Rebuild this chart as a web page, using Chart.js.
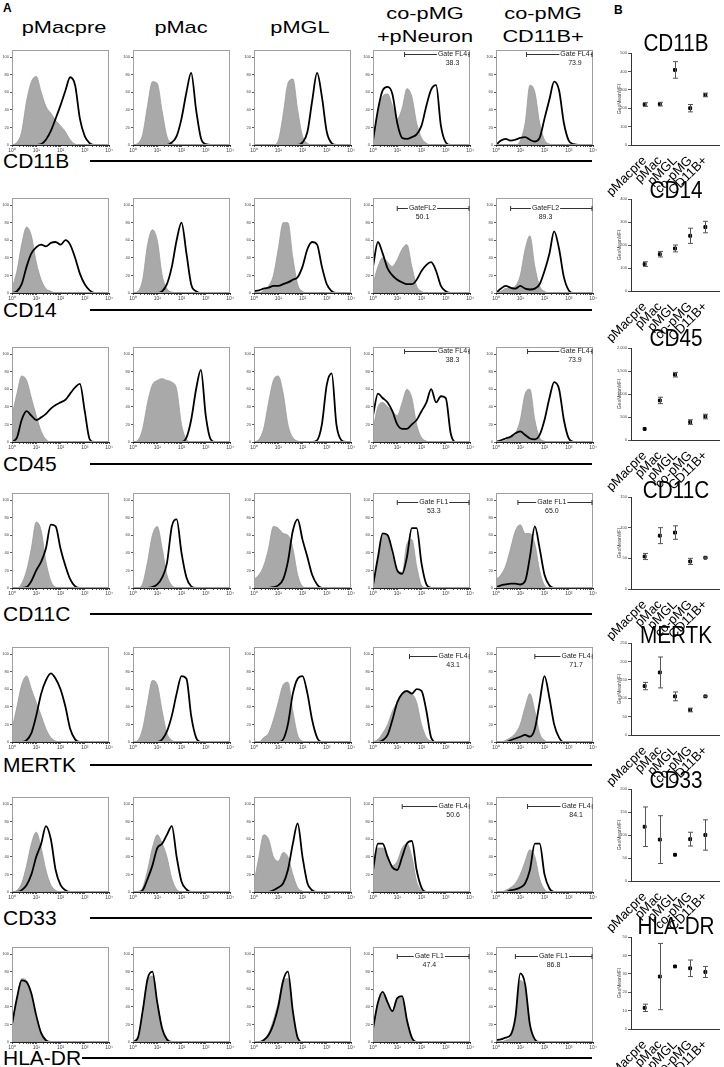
<!DOCTYPE html>
<html>
<head>
<meta charset="utf-8">
<script src="https://cdn.jsdelivr.net/npm/chart.js@4.4.1/dist/chart.umd.min.js"></script>
<style>
  body { margin: 0; width: 724px; height: 1067px; background: #fff; position: relative; overflow: hidden;
         font-family: "Liberation Sans", Arial, sans-serif; color: #000; }
  canvas { position: absolute; }
  .hdr { position: absolute; width: 120px; font-size: 17px; line-height: 23px; text-align: center;
         transform: scaleX(1.28); white-space: nowrap; }
  .rowlab { position: absolute; left: 3px; font-size: 21px; line-height: 21px; white-space: nowrap; }
  .rule { position: absolute; height: 2px; background: #000; }
  .btitle { position: absolute; width: 110px; font-size: 23px; line-height: 24px; text-align: center;
            transform: scaleX(0.9); white-space: nowrap; }
  .panel { position: absolute; font-weight: bold; font-size: 12px; }
</style>
</head>
<body>
<div class="panel" style="left:3px;top:1px">A</div>
<div class="panel" style="left:614px;top:3px">B</div>
<script>
// categories
const groups = ['pMacpre', 'pMac', 'pMGL', 'co-pMG', 'CD11B+'];
const markers = ['CD11B', 'CD14', 'CD45', 'CD11C', 'MERTK', 'CD33', 'HLA-DR'];

// histogram x levels (fluorescence, log) and axis ticks
const xLevels = [1, 1.6, 2.5, 4, 6.3, 10, 16, 25, 40, 63, 100, 160, 250, 400, 630, 1000, 1600, 2500, 4000, 6300, 10000];
const decadeTicks = [1, 10, 100, 1000, 10000];
const decadeLabels = ['10⁰', '10¹', '10²', '10³', '10⁴'];
const histYTicks = [0, 20, 40, 60, 80, 100];

// % of max, isotype (grey) and stained (black), one row per column
const cd11bIso = [
  [0,3,15,50,72, 78,60,44,36,28, 22,15,6,1,0, 0,0,0,0,0, 0],
  [0,2,12,45,72, 70,38,10,2,0, 0,0,0,0,0, 0,0,0,0,0, 0],
  [0,0,0,0,0, 5,35,70,75,40, 10,2,0,0,0, 0,0,0,0,0, 0],
  [5,35,55,58,45, 30,42,64,55,25, 8,2,0,0,0, 0,0,0,0,0, 0],
  [0,0,0,0,0, 5,25,68,60,25, 6,1,0,0,0, 0,0,0,0,0, 0]
];
const cd11bStain = [
  [0,0,0,0,0, 0,1,6,16,30, 45,62,77,68,30, 10,2,0,0,0, 0],
  [0,0,0,0,0, 0,0,0,3,10, 30,60,82,40,8, 1,0,0,0,0, 0],
  [0,0,0,0,0, 0,0,0,0,0, 3,15,50,82,55, 15,2,0,0,0, 0],
  [5,40,62,66,58, 25,8,7,9,12, 22,45,63,68,22, 3,0,0,0,0, 0],
  [0,5,7,5,6, 8,9,6,4,8, 30,52,72,62,25, 5,1,0,0,0, 0]
];
const cd14Iso = [
  [5,25,55,75,65, 35,15,5,2,0, 0,0,0,0,0, 0,0,0,0,0, 0],
  [0,2,15,55,72, 60,20,5,1,0, 0,0,0,0,0, 0,0,0,0,0, 0],
  [0,0,3,8,20, 50,80,80,40,10, 2,0,0,0,0, 0,0,0,0,0, 0],
  [10,30,40,35,30, 38,50,55,30,8, 2,0,0,0,0, 0,0,0,0,0, 0],
  [0,2,5,5,8, 20,50,65,30,8, 2,0,0,0,0, 0,0,0,0,0, 0]
];
const cd14Stain = [
  [0,2,10,30,45, 52,55,53,57,58, 55,60,55,40,22, 10,3,0,0,0, 0],
  [0,0,0,0,0, 0,2,10,30,60, 80,45,10,2,0, 0,0,0,0,0, 0],
  [2,3,5,6,8, 8,10,12,15,18, 30,50,58,55,30, 10,2,0,0,0, 0],
  [30,58,45,28,20, 15,12,10,10,15, 25,32,35,25,8, 2,0,0,0,0, 0],
  [0,5,8,6,5, 8,5,4,5,10, 25,45,70,50,18, 3,0,0,0,0, 0]
];
const cd45Iso = [
  [30,55,75,70,50, 30,12,3,0,0, 0,0,0,0,0, 0,0,0,0,0, 0],
  [0,2,15,45,65, 70,72,70,68,60, 20,3,0,0,0, 0,0,0,0,0, 0],
  [0,3,15,45,70, 75,55,20,5,1, 0,0,0,0,0, 0,0,0,0,0, 0],
  [15,40,45,40,35, 30,45,60,50,20, 5,1,0,0,0, 0,0,0,0,0, 0],
  [0,0,2,5,10, 25,55,60,25,5, 1,0,0,0,0, 0,0,0,0,0, 0]
];
const cd45Stain = [
  [0,5,25,35,30, 25,28,32,38,42, 45,48,55,62,66, 35,3,0,0,0, 0],
  [0,0,0,0,0, 0,0,0,0,0, 0,5,25,60,82, 30,3,0,0,0, 0],
  [0,0,0,0,0, 0,0,0,0,0, 0,0,0,2,20, 65,78,20,2,0, 0],
  [30,55,50,45,35, 20,15,15,20,25, 35,45,60,45,52, 50,10,0,0,0, 0],
  [0,2,4,6,10, 12,8,4,3,8, 25,50,68,60,25, 4,0,0,0,0, 0]
];
const cd11cIso = [
  [0,0,5,20,45, 75,65,30,8,1, 0,0,0,0,0, 0,0,0,0,0, 0],
  [0,0,5,30,60, 70,45,15,3,0, 0,0,0,0,0, 0,0,0,0,0, 0],
  [10,15,25,45,70, 68,62,60,45,15, 2,0,0,0,0, 0,0,0,0,0, 0],
  [3,30,62,58,35, 20,18,50,55,25, 3,0,0,0,0, 0,0,0,0,0, 0],
  [10,15,25,45,65, 72,62,62,50,20, 3,0,0,0,0, 0,0,0,0,0, 0]
];
const cd11cStain = [
  [0,0,0,1,8, 20,30,45,72,70, 45,25,10,2,0, 0,0,0,0,0, 0],
  [0,0,0,0,1, 4,12,28,70,78, 40,12,2,0,0, 0,0,0,0,0, 0],
  [0,0,0,0,1, 3,10,30,65,78, 55,35,15,4,0, 0,0,0,0,0, 0],
  [3,35,62,60,42, 20,16,35,68,68, 28,4,0,0,0, 0,0,0,0,0, 0],
  [1,3,4,5,5, 4,8,35,70,45, 15,3,0,0,0, 0,0,0,0,0, 0]
];
const mertkIso = [
  [15,40,65,75,60, 45,30,15,5,1, 0,0,0,0,0, 0,0,0,0,0, 0],
  [0,2,15,45,70, 65,35,10,2,0, 0,0,0,0,0, 0,0,0,0,0, 0],
  [0,0,5,10,25, 45,65,68,35,8, 1,0,0,0,0, 0,0,0,0,0, 0],
  [0,3,10,20,35, 45,55,58,55,45, 20,5,1,0,0, 0,0,0,0,0, 0],
  [0,0,2,5,10, 20,40,55,35,10, 2,0,0,0,0, 0,0,0,0,0, 0]
];
const mertkStain = [
  [0,0,0,2,10, 30,55,70,78,72, 60,40,15,3,0, 0,0,0,0,0, 0],
  [0,0,0,0,0, 0,3,12,30,55, 75,72,30,5,0, 0,0,0,0,0, 0],
  [0,0,0,0,0, 0,3,20,55,72, 75,55,25,5,0, 0,0,0,0,0, 0],
  [0,0,2,8,25, 45,55,58,55,60, 58,35,5,0,0, 0,0,0,0,0, 0],
  [0,0,0,2,4, 6,8,6,15,45, 75,50,20,5,0, 0,0,0,0,0, 0]
];
const cd33Iso = [
  [0,2,10,30,55, 68,50,25,8,2, 0,0,0,0,0, 0,0,0,0,0, 0],
  [0,0,5,25,50, 65,55,40,15,3, 0,0,0,0,0, 0,0,0,0,0, 0],
  [10,40,65,60,40, 35,45,40,20,5, 1,0,0,0,0, 0,0,0,0,0, 0],
  [20,50,50,40,30, 35,50,55,40,12, 2,0,0,0,0, 0,0,0,0,0, 0],
  [0,0,2,5,10, 20,35,48,40,15, 3,0,0,0,0, 0,0,0,0,0, 0]
];
const cd33Stain = [
  [0,0,2,8,20, 40,55,75,60,25, 8,2,0,0,0, 0,0,0,0,0, 0],
  [0,0,2,15,30, 50,55,65,75,40, 12,3,0,0,0, 0,0,0,0,0, 0],
  [0,0,0,0,2, 5,10,25,55,78, 40,10,2,0,0, 0,0,0,0,0, 0],
  [25,55,55,40,28, 25,40,55,58,25, 5,0,0,0,0, 0,0,0,0,0, 0],
  [0,0,0,2,3, 5,10,25,55,55, 20,4,0,0,0, 0,0,0,0,0, 0]
];
const hladrIso = [
  [20,50,72,70,50, 25,8,2,0,0, 0,0,0,0,0, 0,0,0,0,0, 0],
  [0,5,35,70,75, 45,15,3,0,0, 0,0,0,0,0, 0,0,0,0,0, 0],
  [0,0,3,10,25, 45,70,72,30,5, 0,0,0,0,0, 0,0,0,0,0, 0],
  [15,45,55,45,35, 50,50,25,5,0, 0,0,0,0,0, 0,0,0,0,0, 0],
  [0,0,2,5,25, 70,60,20,3,0, 0,0,0,0,0, 0,0,0,0,0, 0]
];
const hladrStain = [
  [20,50,70,68,55, 30,10,2,0,0, 0,0,0,0,0, 0,0,0,0,0, 0],
  [0,5,35,72,80, 45,15,3,0,0, 0,0,0,0,0, 0,0,0,0,0, 0],
  [0,0,2,8,20, 40,70,80,35,5, 0,0,0,0,0, 0,0,0,0,0, 0],
  [15,45,57,45,35, 50,52,25,5,0, 0,0,0,0,0, 0,0,0,0,0, 0],
  [2,3,5,8,28, 78,65,20,3,0, 0,0,0,0,0, 0,0,0,0,0, 0]
];
const isoRows = [cd11bIso, cd14Iso, cd45Iso, cd11cIso, mertkIso, cd33Iso, hladrIso];
const stainRows = [cd11bStain, cd14Stain, cd45Stain, cd11cStain, mertkStain, cd33Stain, hladrStain];

// gates in the two co-culture columns
const gateNames = ['Gate FL4', 'GateFL2', 'Gate FL4', 'Gate FL1', 'Gate FL4', 'Gate FL4', 'Gate FL1'];
const gatePctCo = ['38.3', '50.1', '38.3', '53.3', '43.1', '50.6', '47.4'];
const gatePctCd11b = ['73.9', '89.3', '73.9', '65.0', '71.7', '84.1', '86.8'];
const gateFromCo = [20, 10, 20, 10, 32, 16, 10];
const gateFromCd11b = [18, 4, 20, 8, 40, 20, 6.3];
const gateTextCo = [1900, 110, 1900, 320, 2000, 2000, 210];
const gateTextCd11b = [1800, 110, 1800, 200, 2000, 2000, 235];
const gateLevel = [103, 97, 103, 98, 98, 98, 98];

// panel B: geometric mean MFI with error
const cd11bMean = [220, 222, 408, 200, 272];
const cd11bErr = [10, 10, 45, 20, 10];
const cd14Mean = [117, 160, 185, 240, 278];
const cd14Err = [10, 12, 15, 33, 25];
const cd45Mean = [240, 860, 1420, 390, 510];
const cd45Err = [0, 70, 50, 50, 50];
const cd11cMean = [53, 87, 92, 45, 51];
const cd11cErr = [5, 13, 11, 5, 1];
const mertkMean = [133, 170, 105, 68, 105];
const mertkErr = [10, 42, 12, 5, 1];
const cd33Mean = [118, 90, 57, 91, 100];
const cd33Err = [43, 52, 0, 15, 33];
const hladrMean = [11.5, 28.5, 34, 33, 31];
const hladrErr = [2, 18, 0, 4.5, 3];
const meanRows = [cd11bMean, cd14Mean, cd45Mean, cd11cMean, mertkMean, cd33Mean, hladrMean];
const errRows = [cd11bErr, cd14Err, cd45Err, cd11cErr, mertkErr, cd33Err, hladrErr];
const bMax = [500, 400, 2000, 150, 250, 200, 50];
const bStep = [100, 100, 500, 50, 50, 50, 10];

// layout
const colX = [12, 133, 254, 373, 496];
const rowY = [50, 198, 347, 493, 647, 797, 947];
const FW = 97, FH = 95;
const hdrX = [64, 181, 300, 425, 543];
const hdrText = ['pMacpre', 'pMac', 'pMGL', 'co-pMG<br>+pNeuron', 'co-pMG<br>CD11B+'];
const labBase = [169, 318, 472, 622, 773, 926, 1066];
const ruleStart = [90, 90, 90, 90, 90, 90, 82];
const bTop = [53, 199, 348, 497, 643, 789, 937];
const bTitleY = [43, 190, 338, 490, 635, 780, 926];

Chart.defaults.font.family = '"Liberation Sans", Arial, sans-serif';

const minorTicks = [];
for (let d = 0; d < 4; d++) for (let m = 1; m < 10; m++) minorTicks.push(m * Math.pow(10, d));
minorTicks.push(10000);

// frame round the plot, plus the gate bracket
const histFrame = {
  id: 'histFrame',
  afterDatasetsDraw(chart, args, opts) {
    const { ctx, chartArea: a, scales: { x, y } } = chart;
    ctx.save();
    ctx.strokeStyle = '#a0a0a0';
    ctx.lineWidth = 1;
    ctx.strokeRect(a.left + 0.5, a.top + 0.5, a.width - 1, a.height - 1);
    const g = opts.gate;
    if (g) {
      const gy = Math.round(y.getPixelForValue(g.level)) + 0.5;
      const x0 = x.getPixelForValue(g.from), x1 = x.getPixelForValue(10000) - 1;
      const tx = x.getPixelForValue(g.at);
      ctx.strokeStyle = '#333';
      ctx.beginPath();
      ctx.moveTo(x0, gy); ctx.lineTo(x1, gy);
      ctx.moveTo(x0, gy - 2.5); ctx.lineTo(x0, gy + 2.5);
      ctx.moveTo(x1, gy - 2.5); ctx.lineTo(x1, gy + 2.5);
      ctx.stroke();
      ctx.font = '7px "Liberation Sans", Arial';
      ctx.textAlign = 'center';
      ctx.textBaseline = 'middle';
      const w = ctx.measureText(g.name).width;
      ctx.fillStyle = '#fff';
      ctx.fillRect(tx - w / 2 - 1, gy - 3, w + 2, 6);
      ctx.fillStyle = '#222';
      ctx.fillText(g.name, tx, gy);
      ctx.fillText(g.pct, tx, gy + 9);
    }
    ctx.restore();
  }
};

// error bars for panel B
const errorBars = {
  id: 'errorBars',
  afterDatasetsDraw(chart, args, opts) {
    const { ctx, scales: { y } } = chart;
    const meta = chart.getDatasetMeta(0);
    ctx.save();
    ctx.strokeStyle = '#555';
    ctx.lineWidth = 1;
    opts.errs.forEach((e, i) => {
      if (!e) return;
      const m = opts.means[i];
      const px = Math.round(meta.data[i].x) + 0.5;
      const t = y.getPixelForValue(m + e), b = y.getPixelForValue(m - e);
      ctx.beginPath();
      ctx.moveTo(px, t); ctx.lineTo(px, b);
      ctx.moveTo(px - 2.5, t); ctx.lineTo(px + 2.5, t);
      ctx.moveTo(px - 2.5, b); ctx.lineTo(px + 2.5, b);
      ctx.stroke();
    });
    ctx.restore();
  }
};

function addDiv(cls, html, style) {
  const d = document.createElement('div');
  d.className = cls;
  d.innerHTML = html;
  Object.assign(d.style, style);
  document.body.appendChild(d);
  return d;
}

function addCanvas(left, top, w, h) {
  const c = document.createElement('canvas');
  c.width = w; c.height = h;
  c.style.left = left + 'px'; c.style.top = top + 'px';
  document.body.appendChild(c);
  return c;
}

// column headers
hdrText.forEach((t, i) => {
  const twoLines = t.includes('<br>');
  addDiv('hdr', t, { left: (hdrX[i] - 60) + 'px', top: (twoLines ? 2 : 16) + 'px' });
});

// row labels and rules
markers.forEach((m, r) => {
  addDiv('rowlab', m, { top: (labBase[r] - 19) + 'px' });
  addDiv('rule', '', { left: ruleStart[r] + 'px', width: (592 - ruleStart[r]) + 'px', top: (labBase[r] - 9) + 'px' });
});

function histChart(r, c) {
  const cv = addCanvas(colX[c] - 12, rowY[r] - 2, 12 + FW + 6, 2 + FH + 10);
  let gate = null;
  if (c === 3) gate = { name: gateNames[r], pct: gatePctCo[r], from: gateFromCo[r], at: gateTextCo[r], level: gateLevel[r] };
  if (c === 4) gate = { name: gateNames[r], pct: gatePctCd11b[r], from: gateFromCd11b[r], at: gateTextCd11b[r], level: gateLevel[r] };
  new Chart(cv, {
    type: 'line',
    data: {
      datasets: [
        {
          data: xLevels.map((x, i) => ({ x, y: stainRows[r][c][i] })),
          borderColor: '#000', borderWidth: 1.8, pointRadius: 0, fill: false,
          cubicInterpolationMode: 'monotone'
        },
        {
          data: xLevels.map((x, i) => ({ x, y: isoRows[r][c][i] })),
          borderColor: '#9a9a9a', borderWidth: 0.8, backgroundColor: '#a9a9a9', pointRadius: 0,
          fill: 'origin', cubicInterpolationMode: 'monotone'
        }
      ]
    },
    options: {
      responsive: false, animation: false, events: [],
      layout: { padding: { top: 2, right: 6, left: 0, bottom: 0 } },
      plugins: { legend: { display: false }, tooltip: { enabled: false }, histFrame: { gate } },
      scales: {
        x: {
          type: 'logarithmic', min: 1, max: 10000,
          afterBuildTicks: s => { s.ticks = minorTicks.map(v => ({ value: v })); },
          afterFit: s => { s.height = 10; s.paddingLeft = 0; s.paddingRight = 0; },
          ticks: {
            autoSkip: false, maxRotation: 0, minRotation: 0, padding: 1, color: '#444', font: { size: 5 },
            callback: v => { const k = decadeTicks.indexOf(v); return k >= 0 ? decadeLabels[k] : ''; }
          },
          grid: { drawOnChartArea: false, tickLength: 2, color: '#555' },
          border: { color: '#222' }
        },
        y: {
          min: 0, max: 108,
          afterBuildTicks: s => { s.ticks = histYTicks.map(v => ({ value: v })); },
          afterFit: s => { s.width = 12; s.paddingTop = 0; s.paddingBottom = 0; },
          ticks: { padding: 1, color: '#444', font: { size: 4 } },
          grid: { drawOnChartArea: false, tickLength: 2, color: '#555' },
          border: { color: '#222' }
        }
      }
    },
    plugins: [histFrame]
  });
}

function meanChart(r) {
  const cv = addCanvas(594, bTop[r] - 5, 130, 5 + 92 + 52);
  new Chart(cv, {
    type: 'line',
    data: {
      datasets: [{
        data: meanRows[r].map((v, i) => ({ x: i, y: v })),
        showLine: false, pointStyle: 'rect', pointRadius: 2,
        backgroundColor: '#000', borderColor: '#000'
      }]
    },
    options: {
      responsive: false, animation: false, events: [],
      layout: { padding: { top: 5, right: 1, left: 23, bottom: 0 } },
      plugins: {
        legend: { display: false }, tooltip: { enabled: false },
        errorBars: { means: meanRows[r], errs: errRows[r] }
      },
      scales: {
        x: {
          type: 'linear', min: -0.9, max: 4.9,
          afterBuildTicks: s => { s.ticks = groups.map((g, i) => ({ value: i })); },
          afterFit: s => { s.height = 52; s.paddingLeft = 0; s.paddingRight = 0; },
          ticks: {
            autoSkip: false, minRotation: 45, maxRotation: 45, padding: 0, color: '#000',
            font: { size: 13 }, callback: v => groups[v]
          },
          grid: { display: false },
          border: { color: '#333' }
        },
        y: {
          min: 0, max: bMax[r],
          ticks: { stepSize: bStep[r], padding: 1, color: '#444', font: { size: 4 } },
          afterFit: s => { s.width = 14; s.paddingTop = 0; s.paddingBottom = 0; },
          title: { display: true, text: 'GeoMeanMFI', color: '#444', font: { size: 5 }, padding: 0 },
          grid: { drawOnChartArea: false, tickLength: 3, color: '#555' },
          border: { color: '#333' }
        }
      }
    },
    plugins: [errorBars]
  });
  addDiv('btitle', markers[r], { left: (676 - 55) + 'px', top: (bTitleY[r] - 12) + 'px' });
}

for (let r = 0; r < markers.length; r++) {
  for (let c = 0; c < groups.length; c++) histChart(r, c);
  meanChart(r);
}
</script>
</body>
</html>
